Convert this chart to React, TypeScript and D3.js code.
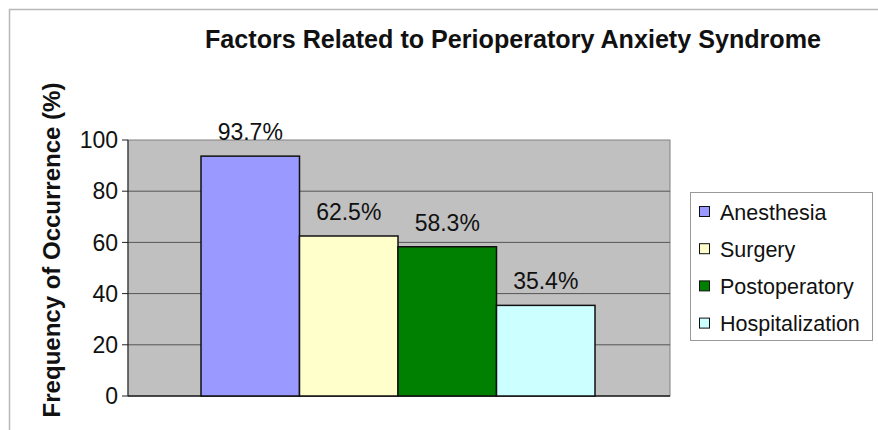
import React from "react";
import * as d3 from "d3";

const seriesNames = ["Anesthesia", "Surgery", "Postoperatory", "Hospitalization"];
const seriesValues = [93.7, 62.5, 58.3, 35.4];
const valueLabels = ["93.7%", "62.5%", "58.3%", "35.4%"];
const seriesColors = ["#9999ff", "#ffffcc", "#008000", "#ccffff"];
const yTicks = [0, 20, 40, 60, 80, 100];
const titleText = "Factors Related to Perioperatory Anxiety Syndrome";
const yAxisTitle = "Frequency of Occurrence (%)";

const W = 878;
const H = 430;
const plot = { left: 128, right: 670, top: 140, bottom: 396 };
const FONT = "Liberation Sans, Arial, sans-serif";

export default function App() {
  const y = d3.scaleLinear().domain([0, 100]).range([plot.bottom, plot.top]);
  const x = d3
    .scaleBand<string>()
    .domain(seriesNames)
    .range([plot.left + 73, plot.right - 75])
    .padding(0);

  return (
    <svg
      width={W}
      height={H}
      style={{ position: "absolute", left: 0, top: 0, background: "#fff" }}
      fontFamily={FONT}
    >
      <rect x={9.5} y={9.5} width={W + 20} height={H + 20} fill="#fff" stroke="#b8b8b8" strokeWidth={1.5} />
      <text
        x={513}
        y={48}
        textAnchor="middle"
        fontWeight="bold"
        fontSize={25}
        fill="#111"
        textLength={616}
        lengthAdjust="spacingAndGlyphs"
      >
        {titleText}
      </text>
      <text
        transform={`translate(60,${(78 + 422) / 2}) rotate(-90)`}
        textAnchor="middle"
        fontWeight="bold"
        fontSize={24}
        fill="#111"
      >
        {yAxisTitle}
      </text>
      <rect
        x={plot.left}
        y={plot.top}
        width={plot.right - plot.left}
        height={plot.bottom - plot.top}
        fill="#c0c0c0"
        stroke="#808080"
        strokeWidth={1}
      />
      {yTicks.map((t) => (
        <g key={t}>
          {t > 0 && t < 100 && (
            <line x1={plot.left} x2={plot.right} y1={y(t)} y2={y(t)} stroke="#555" strokeWidth={1} />
          )}
          <line x1={plot.left - 6} x2={plot.left} y1={y(t)} y2={y(t)} stroke="#222" strokeWidth={1} />
          <text x={118} y={y(t)} dy="0.36em" textAnchor="end" fontSize={23} fill="#111">
            {t}
          </text>
        </g>
      ))}
      <line x1={plot.left} x2={plot.left} y1={plot.top} y2={plot.bottom} stroke="#222" strokeWidth={1} />
      <line x1={plot.left} x2={plot.right} y1={plot.bottom} y2={plot.bottom} stroke="#222" strokeWidth={1.5} />
      {seriesNames.map((s, i) => (
        <g key={s}>
          <rect
            x={x(s)}
            y={y(seriesValues[i])}
            width={x.bandwidth()}
            height={plot.bottom - y(seriesValues[i])}
            fill={seriesColors[i]}
            stroke="#111"
            strokeWidth={1.5}
          />
          <text
            x={(x(s) as number) + x.bandwidth() / 2}
            y={y(seriesValues[i]) - 16}
            textAnchor="middle"
            fontSize={23}
            fill="#111"
          >
            {valueLabels[i]}
          </text>
        </g>
      ))}
      <rect x={690.5} y={192.5} width={182} height={148} fill="#fff" stroke="#999" strokeWidth={1} />
      {seriesNames.map((s, i) => (
        <g key={s} transform={`translate(699,${212 + i * 37.2})`}>
          <rect x={0.5} y={-5.5} width={10} height={10} fill={seriesColors[i]} stroke="#111" strokeWidth={1} />
          <text x={21} y={0} dy="0.36em" fontSize={21.5} fill="#111">
            {s}
          </text>
        </g>
      ))}
    </svg>
  );
}
